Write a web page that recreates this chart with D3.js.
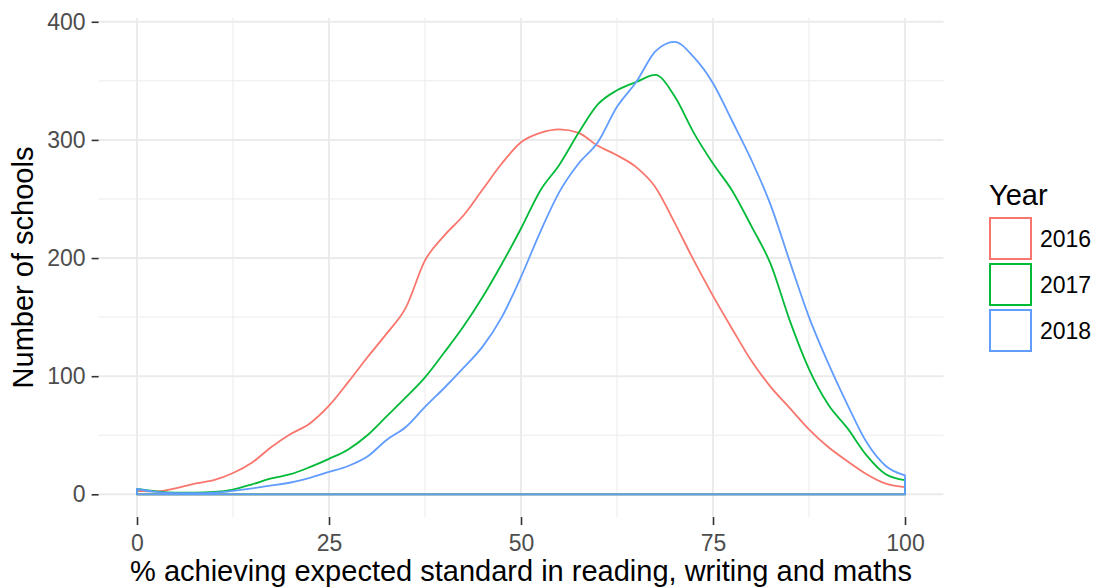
<!DOCTYPE html>
<html>
<head>
<meta charset="utf-8">
<script src="https://cdn.jsdelivr.net/npm/d3@7/dist/d3.min.js"></script>
<style>
  html, body { margin: 0; padding: 0; background: #fff; }
  svg { display: block; font-family: "Liberation Sans", Arial, sans-serif; }
</style>
</head>
<body>
<svg id="chart" width="1094" height="588"></svg>
<script>
// ---- data ----
const xValues = [0,2.5,5,7.5,10,12.5,15,17.5,20,22.5,25,27.5,30,32.5,35,37.5,40,42.5,45,47.5,50,52.5,55,57.5,60,62.5,65,67.5,70,72.5,75,77.5,80,82.5,85,87.5,90,92.5,95,97.5,100];
const years = ["2016", "2017", "2018"];
const counts2016 = [3,2.5,5,9,12,18,27,40,51,60,75,95,116,136,158,198,219,236,258,280,298,306,309,306,295,287,277,260,230,198,168,140,113,91,73,55,40,28,17,9,6];
const counts2017 = [4.5,2.5,1.5,1.5,2,4,8.5,13.5,17,23,30,38,50,66,82,99,120,142,167,195,225,257,279,306,330,342,349,355,337,306,280,257,227,195,147,106,76,56,33,17,12];
const counts2018 = [4.5,2,1,1,1.5,3,5,7.5,10,14,19,24,32,46,57,74,90,107,125,150,184,222,256,280,298,328,349,375,383,370,348,316,283,245,197,150,111,76,44,24,16];
const xTicks = [0, 25, 50, 75, 100];
const yTicks = [0, 100, 200, 300, 400];
const colors = ["#F8766D", "#00BA38", "#619CFF"];
const seriesValues = [counts2016, counts2017, counts2018];

// ---- layout ----
const svg = d3.select("#chart");
const panel = { left: 98.6, right: 943.4, top: 18, bottom: 517 };
const x = d3.scaleLinear().domain([-5, 105]).range([panel.left, panel.right]);
const y = d3.scaleLinear().domain([-19.2, 403.2]).range([panel.bottom, panel.top]);

const g = svg.append("g");

// grid: minor
const xMinor = [12.5, 37.5, 62.5, 87.5];
const yMinor = [50, 150, 250, 350];
g.selectAll(".xminor").data(xMinor).enter().append("line")
  .attr("x1", d => x(d)).attr("x2", d => x(d))
  .attr("y1", panel.top).attr("y2", panel.bottom)
  .attr("stroke", "#EBEBEB").attr("stroke-width", 1);
g.selectAll(".yminor").data(yMinor).enter().append("line")
  .attr("y1", d => y(d)).attr("y2", d => y(d))
  .attr("x1", panel.left).attr("x2", panel.right)
  .attr("stroke", "#EBEBEB").attr("stroke-width", 1);
// grid: major
g.selectAll(".xmajor").data(xTicks).enter().append("line")
  .attr("x1", d => x(d)).attr("x2", d => x(d))
  .attr("y1", panel.top).attr("y2", panel.bottom)
  .attr("stroke", "#EBEBEB").attr("stroke-width", 2);
g.selectAll(".ymajor").data(yTicks).enter().append("line")
  .attr("y1", d => y(d)).attr("y2", d => y(d))
  .attr("x1", panel.left).attr("x2", panel.right)
  .attr("stroke", "#EBEBEB").attr("stroke-width", 2);

// axes
const xAxis = d3.axisBottom(x).tickValues(xTicks).tickSize(8).tickPadding(10);
const yAxis = d3.axisLeft(y).tickValues(yTicks).tickSize(7).tickPadding(6);
const gx = svg.append("g").attr("transform", `translate(0,${panel.bottom})`).call(xAxis);
const gy = svg.append("g").attr("transform", `translate(${panel.left},0)`).call(yAxis);
[gx, gy].forEach(a => {
  a.select(".domain").remove();
  a.selectAll(".tick line").attr("stroke", "#333333").attr("stroke-width", 1.6);
  a.selectAll(".tick text").attr("fill", "#4D4D4D").attr("font-size", 23)
    .attr("font-family", "'Liberation Sans', Arial, sans-serif");
});

// density outlines
const line = d3.line().x(d => x(d[0])).y(d => y(d[1])).curve(d3.curveMonotoneX);
seriesValues.forEach((vals, i) => {
  const pts = xValues.map((xv, j) => [xv, vals[j]]);
  const path = line(pts) + `L${x(100)},${y(0)}L${x(0)},${y(0)}Z`;
  g.append("path").attr("d", path).attr("fill", "none")
    .attr("stroke", colors[i]).attr("stroke-width", 1.8).attr("stroke-linejoin", "round");
});

// axis titles
svg.append("text").attr("x", (panel.left + panel.right) / 2).attr("y", 581)
  .attr("text-anchor", "middle").attr("font-size", 29).attr("fill", "#000")
  .text("% achieving expected standard in reading, writing and maths");
svg.append("text").attr("transform", `translate(33,${(panel.top + panel.bottom) / 2}) rotate(-90)`)
  .attr("text-anchor", "middle").attr("font-size", 29).attr("fill", "#000")
  .text("Number of schools");

// legend
const lg = svg.append("g").attr("transform", "translate(989,0)");
lg.append("text").attr("x", 0).attr("y", 205).attr("font-size", 29).attr("fill", "#000").text("Year");
years.forEach((yr, i) => {
  const top = 217 + i * 46;
  lg.append("rect").attr("x", 1).attr("y", top + 1).attr("width", 41).attr("height", 41)
    .attr("fill", "#fff").attr("stroke", colors[i]).attr("stroke-width", 2);
  lg.append("text").attr("x", 51).attr("y", top + 22).attr("dy", "0.35em")
    .attr("font-size", 23).attr("fill", "#000").text(yr);
});
</script>
</body>
</html>
